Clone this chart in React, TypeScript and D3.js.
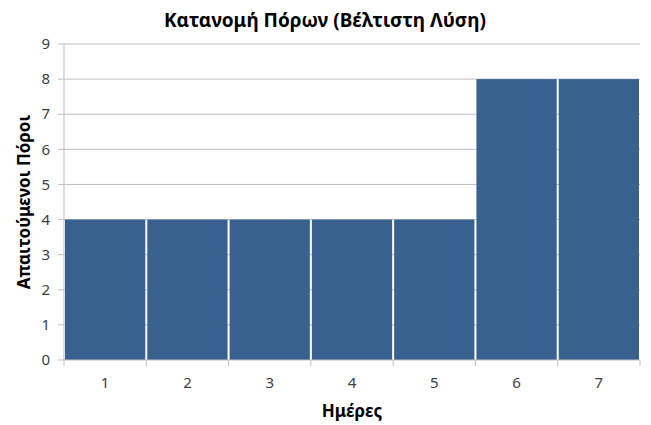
import React from "react";
import * as d3 from "d3";

const days = ["1", "2", "3", "4", "5", "6", "7"];
const resources = [4, 4, 4, 4, 4, 8, 8];
const yTicks = [0, 1, 2, 3, 4, 5, 6, 7, 8, 9];
const title = "Κατανομή Πόρων (Βέλτιστη Λύση)";
const xTitle = "Ημέρες";
const yTitle = "Απαιτούμενοι Πόροι";

export default function App() {
  const W = 651, H = 425;
  const left = 64, right = 640, top = 44, bottom = 360;
  const x = d3.scaleBand<string>().domain(days).range([left, right]).paddingInner(0).paddingOuter(0);
  const y = d3.scaleLinear().domain([0, 9]).range([bottom, top]);
  const font = "'Noto Sans', 'DejaVu Sans', sans-serif";
  const gap = 2;
  return (
    <svg width={W} height={H} style={{ position: "absolute", left: 0, top: 0 }} fontFamily={font}>
      <rect width={W} height={H} fill="#fff" />
      {yTicks.map((t) => (
        <g key={t}>
          {t > 0 && <line x1={left} x2={right} y1={y(t)} y2={y(t)} stroke="#bfbfbf" strokeWidth={1} />}
          <line x1={left - 6} x2={left} y1={y(t)} y2={y(t)} stroke="#bfbfbf" strokeWidth={1} />
          <text x={50} y={y(t)} dy="0.35em" textAnchor="end" fontSize={15} fill="#404040">{t}</text>
        </g>
      ))}
      {days.map((d, i) => (
        <rect key={d} x={(x(d) as number) + (i === 0 ? 1 : gap / 2)} y={y(resources[i])}
          width={x.bandwidth() - (i === 0 ? 1 + gap / 2 : gap)} height={y(0) - y(resources[i])} fill="#38618f" />
      ))}
      <line x1={left} x2={left} y1={top} y2={bottom} stroke="#bfbfbf" />
      <line x1={left} x2={right} y1={bottom} y2={bottom} stroke="#bfbfbf" />
      {[...days.map((d) => x(d) as number), right].map((v, i) => (
        <line key={i} x1={v} x2={v} y1={bottom} y2={bottom + 6} stroke="#bfbfbf" />
      ))}
      {days.map((d) => (
        <text key={d} x={(x(d) as number) + x.bandwidth() / 2} y={383} dy="0.35em" textAnchor="middle" fontSize={15} fill="#404040">{d}</text>
      ))}
      <text x={325} y={20} dy="0.35em" textAnchor="middle" fontSize={19} fontWeight="bold" fill="#000">{title}</text>
      <text x={352} y={411} dy="0.35em" textAnchor="middle" fontSize={17} fontWeight="bold" fill="#000">{xTitle}</text>
      <text transform={`translate(24,${(top + bottom) / 2}) rotate(-90)`} dy="0.35em" textAnchor="middle" fontSize={17} fontWeight="bold" fill="#000">{yTitle}</text>
    </svg>
  );
}
